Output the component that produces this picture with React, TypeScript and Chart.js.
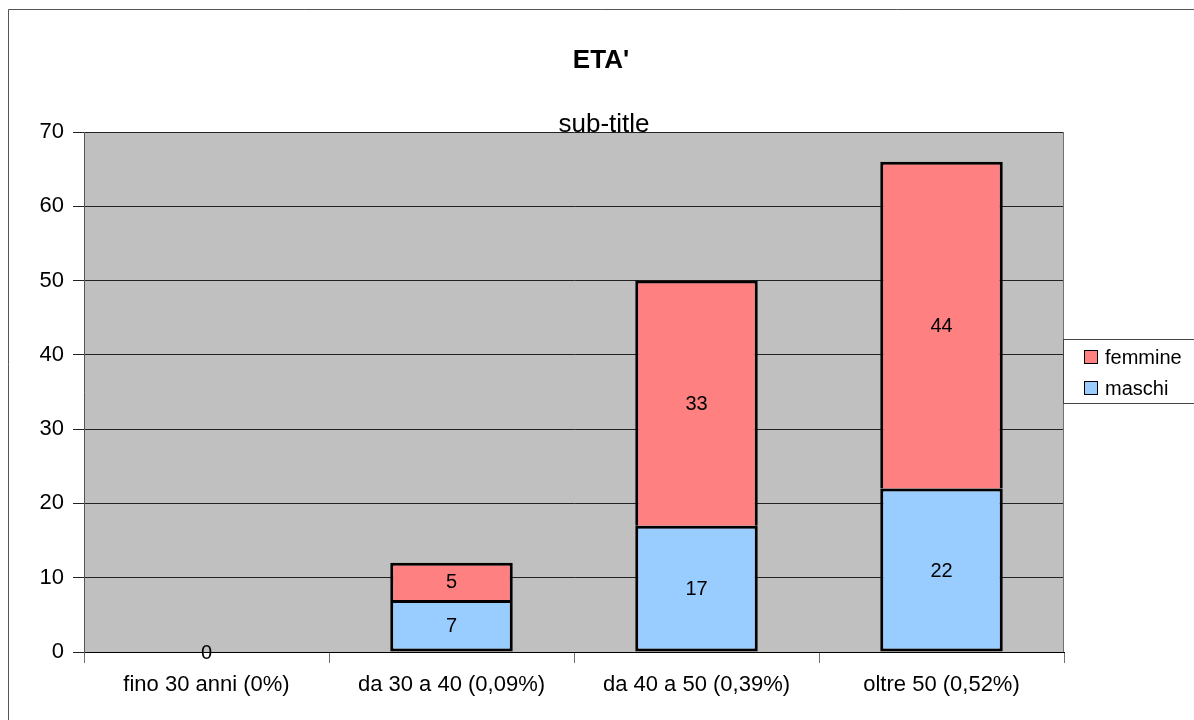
import React, { useEffect, useRef } from "react";
import Chart from "chart.js/auto";

const categories = ["fino 30 anni (0%)", "da 30 a 40 (0,09%)", "da 40 a 50 (0,39%)", "oltre 50 (0,52%)"];
const maschi = [0, 7, 17, 22];
const femmine = [0, 5, 33, 44];
const seriesNames = ["maschi", "femmine"];
const seriesColors = ["#99ccff", "#ff8080"];
const titleText = "ETA'";
const subtitleText = "sub-title";
const yMax = 70;
const yStep = 10;

const FONT = "'Liberation Sans', Arial, sans-serif";

export default function App() {
  const ref = useRef<HTMLCanvasElement | null>(null);
  useEffect(() => {
    const canvas = ref.current;
    if (!canvas) return;

    const decor = {
      id: "decor",
      beforeDraw(chart: any) {
        const { ctx, chartArea: a } = chart;
        ctx.save();
        ctx.fillStyle = "#ffffff";
        ctx.fillRect(0, 0, chart.width, chart.height);
        ctx.fillStyle = "#c0c0c0";
        ctx.fillRect(a.left, a.top, a.right - a.left, a.bottom - a.top);
        ctx.strokeStyle = "#555555";
        ctx.lineWidth = 1;
        ctx.beginPath();
        ctx.moveTo(8.5, chart.height);
        ctx.lineTo(8.5, 9.5);
        ctx.lineTo(chart.width, 9.5);
        ctx.stroke();
        ctx.restore();
      },
      beforeDatasetsDraw(chart: any) {
        const { ctx, chartArea: a } = chart;
        ctx.save();
        ctx.strokeStyle = "#707070";
        ctx.lineWidth = 1;
        ctx.beginPath();
        ctx.moveTo(Math.round(a.right) - 0.5, a.top);
        ctx.lineTo(Math.round(a.right) - 0.5, a.bottom);
        ctx.stroke();
        ctx.restore();
      },
      afterDatasetsDraw(chart: any) {
        const { ctx } = chart;
        ctx.save();
        ctx.fillStyle = "#000000";
        ctx.font = `20px ${FONT}`;
        ctx.textAlign = "center";
        ctx.textBaseline = "middle";
        chart.data.datasets.forEach((ds: any, di: number) => {
          const meta = chart.getDatasetMeta(di);
          meta.data.forEach((el: any, i: number) => {
            const v = ds.data[i];
            if (v > 0) {
              ctx.fillText(String(v), el.x, (el.y + el.base) / 2 + 1);
            } else if (di === 0) {
              ctx.fillText(String(v), el.x, el.y + 1);
            }
          });
        });
        ctx.restore();
      },
      afterDraw(chart: any) {
        const { ctx } = chart;
        ctx.save();
        ctx.fillStyle = "#000000";
        ctx.textAlign = "center";
        ctx.textBaseline = "alphabetic";
        ctx.font = `bold 26px ${FONT}`;
        ctx.fillText(titleText, 601, 68);
        ctx.font = `26px ${FONT}`;
        ctx.fillText(subtitleText, 604, 132);
        const lx = 1063.5, ly = 339.5, lh = 64;
        ctx.fillStyle = "#ffffff";
        ctx.fillRect(lx, ly, chart.width - lx + 5, lh);
        ctx.strokeStyle = "#444444";
        ctx.lineWidth = 1;
        ctx.strokeRect(lx, ly, chart.width - lx + 20, lh);
        const order = [1, 0];
        ctx.font = `20px ${FONT}`;
        ctx.textAlign = "left";
        ctx.textBaseline = "middle";
        order.forEach((si, k) => {
          const cy = 357 + k * 31;
          ctx.fillStyle = seriesColors[si];
          ctx.fillRect(1084.5, cy - 6.5, 13, 13);
          ctx.strokeStyle = "#000000";
          ctx.strokeRect(1084.5, cy - 6.5, 13, 13);
          ctx.fillStyle = "#000000";
          ctx.fillText(seriesNames[si], 1105, cy + 1);
        });
        ctx.restore();
      },
    };

    const chart = new Chart(canvas, {
      type: "bar",
      data: {
        labels: categories,
        datasets: [
          {
            label: seriesNames[0],
            data: maschi,
            backgroundColor: seriesColors[0],
            borderColor: "#000000",
            borderWidth: 3,
            borderSkipped: false,
            categoryPercentage: 1,
            barPercentage: 0.5,
          },
          {
            label: seriesNames[1],
            data: femmine,
            backgroundColor: seriesColors[1],
            borderColor: "#000000",
            borderWidth: 3,
            borderSkipped: "start",
            categoryPercentage: 1,
            barPercentage: 0.5,
          },
        ],
      },
      options: {
        responsive: false,
        animation: false,
        devicePixelRatio: 1,
        layout: { padding: { left: 8, top: 132, right: 130, bottom: 0 } },
        plugins: {
          legend: { display: false },
          title: { display: false },
          tooltip: { enabled: false },
        },
        scales: {
          x: {
            stacked: true,
            offset: true,
            grid: {
              display: true,
              drawOnChartArea: false,
              drawTicks: true,
              tickLength: 11,
              color: "#707070",
              offset: true,
            },
            border: { display: true, color: "#000000", width: 1 },
            ticks: {
              color: "#000000",
              padding: 9,
              font: { family: FONT, size: 22 },
              maxRotation: 0,
              autoSkip: false,
            },
            afterFit: (s: any) => {
              s.height = 68;
            },
          },
          y: {
            stacked: true,
            min: 0,
            max: yMax,
            ticks: {
              stepSize: yStep,
              color: "#000000",
              padding: 9,
              font: { family: FONT, size: 22 },
            },
            grid: {
              color: "#222222",
              lineWidth: 1,
              drawTicks: true,
              tickLength: 11,
            },
            border: { display: true, color: "#555555", width: 1 },
            afterFit: (s: any) => {
              s.width = 76;
            },
          },
        },
      },
      plugins: [decor],
    });
    return () => chart.destroy();
  }, []);

  return (
    <div style={{ position: "fixed", left: 0, top: 0, width: 1194, height: 720, background: "#fff" }}>
      <canvas ref={ref} width={1194} height={720} style={{ display: "block", width: 1194, height: 720 }} />
    </div>
  );
}
